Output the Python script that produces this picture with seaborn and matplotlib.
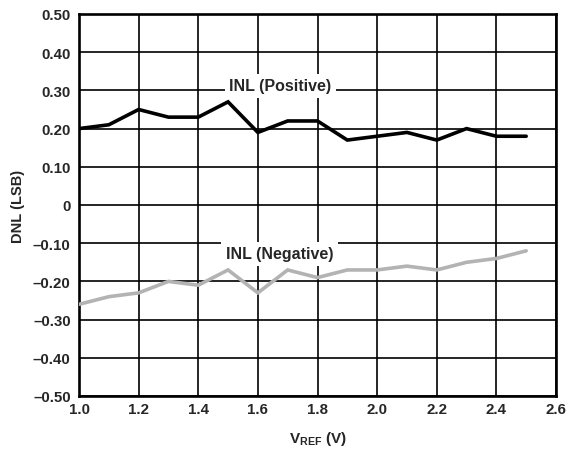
import matplotlib
matplotlib.use("Agg")
import matplotlib.pyplot as plt
import matplotlib.ticker as mticker
import numpy as np
import pandas as pd
import seaborn as sns

# Reference voltage sweep (V)
vref = [1.0, 1.1, 1.2, 1.3, 1.4, 1.5, 1.6, 1.7, 1.8, 1.9, 2.0, 2.1, 2.2, 2.3, 2.4, 2.5]
# Linearity error (LSB)
inl_positive = [0.20, 0.21, 0.25, 0.23, 0.23, 0.27, 0.19, 0.22, 0.22, 0.17,
                0.18, 0.19, 0.17, 0.20, 0.18, 0.18]
inl_negative = [-0.26, -0.24, -0.23, -0.20, -0.21, -0.17, -0.23, -0.17, -0.19, -0.17,
                -0.17, -0.16, -0.17, -0.15, -0.14, -0.12]

x_ticks = [1.0, 1.2, 1.4, 1.6, 1.8, 2.0, 2.2, 2.4, 2.6]
y_ticks = [-0.5, -0.4, -0.3, -0.2, -0.1, 0.0, 0.1, 0.2, 0.3, 0.4, 0.5]

sns.set_style("white")
plt.rcParams["font.family"] = ["Liberation Sans", "DejaVu Sans"]
plt.rcParams["font.weight"] = "bold"
plt.rcParams["mathtext.fontset"] = "custom"
plt.rcParams["mathtext.bf"] = "Liberation Sans:bold"
plt.rcParams["mathtext.rm"] = "Liberation Sans:bold"

df = pd.DataFrame({
    "vref": vref * 2,
    "value": inl_positive + inl_negative,
    "series": ["INL (Positive)"] * len(vref) + ["INL (Negative)"] * len(vref),
})

fig = plt.figure(figsize=(5.81, 4.56), dpi=100)
ax = fig.add_axes([79 / 581, 1 - 397 / 456, (556 - 79) / 581, (397 - 15) / 456])

sns.lineplot(data=df, x="vref", y="value", hue="series",
             palette={"INL (Positive)": "#000000", "INL (Negative)": "#b3b3b3"},
             linewidth=2.6, legend=False, ax=ax, zorder=3)
for ln in ax.get_lines():
    ln.set_solid_joinstyle("miter")

ax.set_xlim(1.0, 2.6)
ax.set_ylim(-0.5, 0.5)
ax.set_xticks(x_ticks)
ax.set_yticks(y_ticks)


def fmt_y(v, _):
    if abs(v) < 1e-9:
        return "0"
    s = f"{abs(v):.2f}"
    return ("\u2013" + s) if v < 0 else s


ax.yaxis.set_major_formatter(mticker.FuncFormatter(fmt_y))
ax.xaxis.set_major_formatter(mticker.FuncFormatter(lambda v, _: f"{v:.1f}"))
ax.tick_params(axis="both", length=0, labelsize=10.8)
ax.tick_params(axis="y", pad=6)
ax.tick_params(axis="x", pad=4)
for lab in ax.get_xticklabels() + ax.get_yticklabels():
    lab.set_fontweight("bold")

ax.grid(True, color="#000000", linewidth=1.2)
ax.set_axisbelow(True)
for sp in ax.spines.values():
    sp.set_color("#000000")
    sp.set_linewidth(1.9)

ax.set_xlabel(r"$\mathbf{V}_{\mathbf{REF}}$ (V)", fontsize=11, fontweight="bold", labelpad=10)
ax.set_ylabel("DNL (LSB)", fontsize=10.5, fontweight="bold", labelpad=6)

box = dict(boxstyle="square,pad=0.3", facecolor="white", edgecolor="none")
ax.text(1.676, 0.312, "INL (Positive)", ha="center", va="center", fontsize=11.5,
        fontweight="bold", bbox=box, zorder=4)
ax.text(1.673, -0.128, "INL (Negative)", ha="center", va="center", fontsize=11.5,
        fontweight="bold", bbox=box, zorder=4)

fig.savefig("out.png", dpi=100)
